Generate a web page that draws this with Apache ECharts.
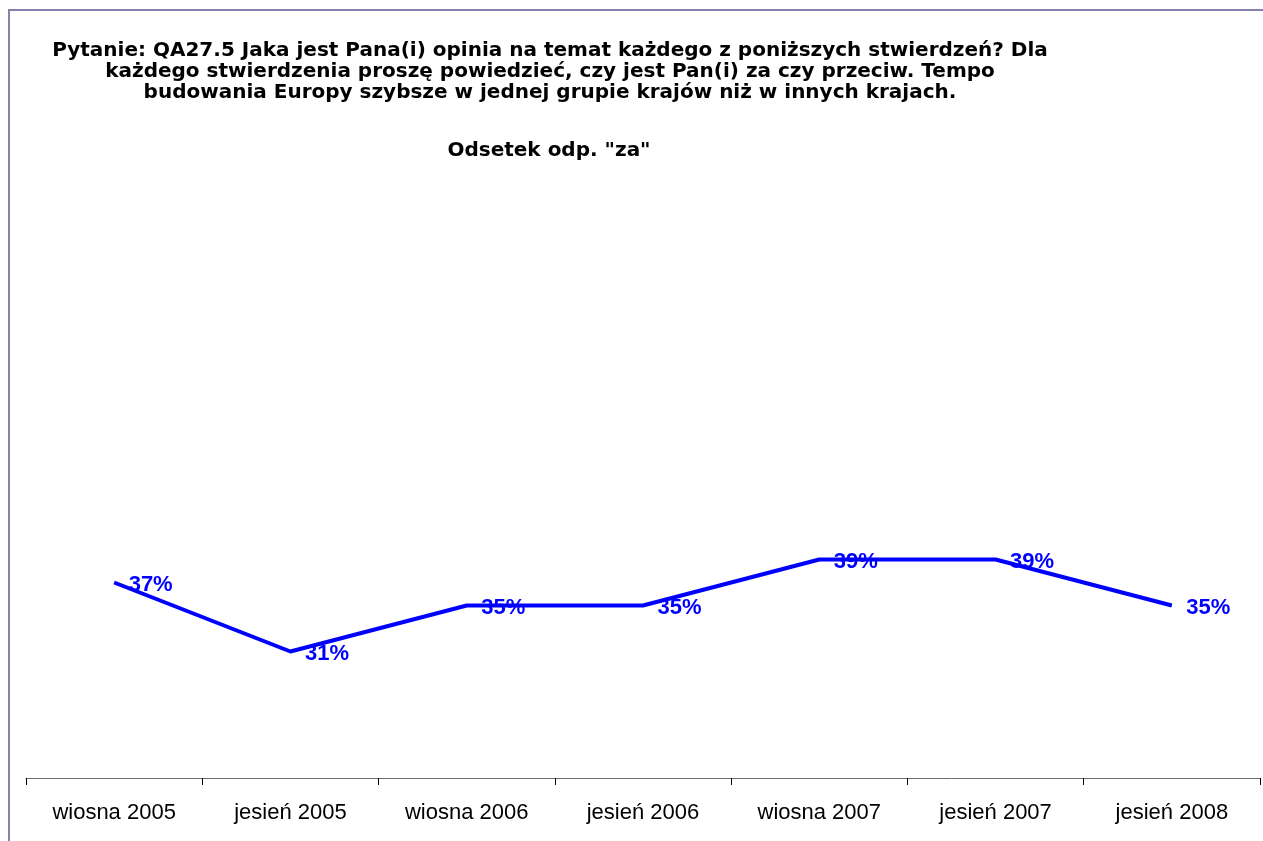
<!DOCTYPE html>
<html><head><meta charset="utf-8">
<script src="https://cdn.jsdelivr.net/npm/echarts@6/dist/echarts.min.js"></script>
<style>html,body{margin:0;padding:0;background:#fff}#c{width:1263px;height:841px}</style>
</head><body><div id="c"></div>
<script>
const categories = ['wiosna 2005','jesień 2005','wiosna 2006','jesień 2006','wiosna 2007','jesień 2007','jesień 2008'];
const values = [37, 31, 35, 35, 39, 39, 35];
const titleText = 'Pytanie: QA27.5 Jaka jest Pana(i) opinia na temat każdego z poniższych stwierdzeń? Dla\nkażdego stwierdzenia proszę powiedzieć, czy jest Pan(i) za czy przeciw. Tempo\nbudowania Europy szybsze w jednej grupie krajów niż w innych krajach.';
const subtitleText = 'Odsetek odp. "za"';

const chart = echarts.init(document.getElementById('c'), null, {renderer:'canvas'});
chart.setOption({
  animation:false,
  backgroundColor:'#fff',
  graphic:[{type:'rect', shape:{x:9,y:10,width:1400,height:1000}, style:{fill:'none', stroke:'#8282ad', lineWidth:2}, z:-1}],
  title:[
    {text:titleText, left:545, top:35, textAlign:'center',
     textStyle:{fontFamily:'DejaVu Sans', fontWeight:'bold', fontSize:20, lineHeight:21, color:'#000', align:'center'}},
    {text:subtitleText, left:544, top:135, textAlign:'center',
     textStyle:{fontFamily:'DejaVu Sans', fontWeight:'bold', fontSize:20, lineHeight:21, color:'#000'}}
  ],
  grid:{left:26, right:3, top:318, bottom:63, containLabel:false},
  xAxis:{type:'category', data:categories, boundaryGap:true,
    axisLine:{lineStyle:{color:'#6e6e6e', width:1}},
    axisTick:{show:true, length:7, lineStyle:{color:'#000'}},
    axisLabel:{fontFamily:'Liberation Sans', fontSize:22, color:'#000', margin:24}},
  yAxis:{type:'value', min:20, max:60, show:false, splitLine:{show:false}},
  series:[{type:'line', data:values, symbol:'circle', symbolSize:1, showSymbol:true,
    itemStyle:{color:'rgba(0,0,255,0)'},
    lineStyle:{color:'#0000ff', width:4},
    label:{show:true, position:'right', distance:14, offset:[0,2], formatter:p=>p.value+'%',
      fontFamily:'Liberation Sans', fontWeight:'bold', fontSize:22, color:'#0000ff'}}]
});
</script></body></html>
